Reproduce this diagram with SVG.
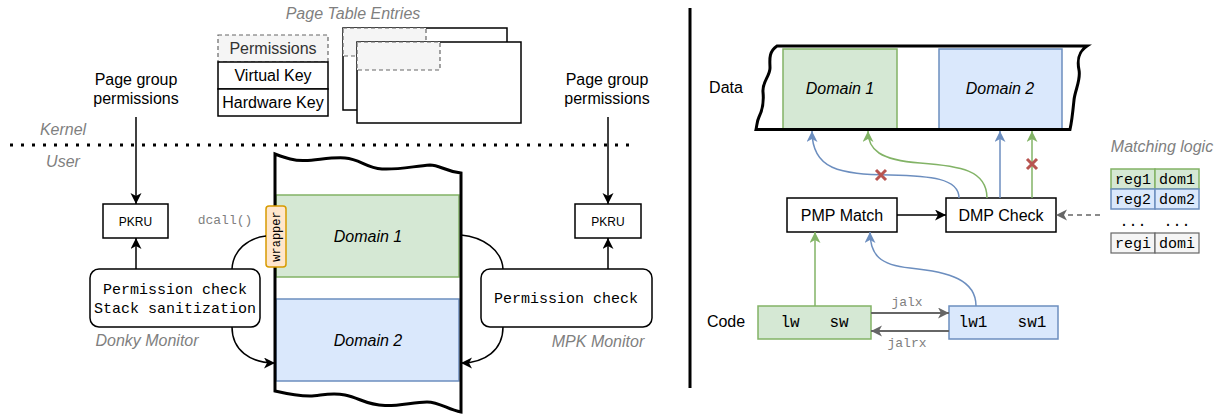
<svg xmlns="http://www.w3.org/2000/svg" width="1216" height="414" viewBox="0 0 1216 414">
<style>
.t{font-family:"Liberation Sans",Arial,sans-serif;font-size:16px;fill:#000;text-anchor:middle}
.i{font-family:"Liberation Sans",Arial,sans-serif;font-size:16px;font-style:italic;fill:#7f7f7f;text-anchor:middle}
.di{font-family:"Liberation Sans",Arial,sans-serif;font-size:16px;font-style:italic;fill:#000;text-anchor:middle}
.m{font-family:"Liberation Mono","Courier New",monospace;font-size:15px;fill:#000;text-anchor:middle}
.mg{font-family:"Liberation Mono","Courier New",monospace;font-size:13px;fill:#7f7f7f;text-anchor:middle}
.box{fill:#fff;stroke:#000;stroke-width:1.5}
.green{fill:#d5e8d4;stroke:#82b366;stroke-width:1.5}
.blue{fill:#dae8fc;stroke:#6c8ebf;stroke-width:1.5}
.grayd{fill:#f5f5f5;stroke:#666;stroke-width:1.2;stroke-dasharray:4 3}
.gray{fill:#f5f5f5;stroke:#666;stroke-width:1.2}
.tape{fill:none;stroke:#000;stroke-width:3}
.c{fill:none;stroke-width:1.5}
.x{stroke:#b85450;stroke-width:3;fill:none}
</style>
<defs>
<marker id="ak" markerUnits="userSpaceOnUse" markerWidth="12" markerHeight="12" refX="11" refY="5.5" orient="auto"><path d="M0,0 L11,5.5 L0,11 L3,5.5 z" fill="#000"/></marker>
<marker id="ab" markerUnits="userSpaceOnUse" markerWidth="12" markerHeight="12" refX="11" refY="5.5" orient="auto"><path d="M0,0 L11,5.5 L0,11 L3,5.5 z" fill="#6c8ebf"/></marker>
<marker id="ag" markerUnits="userSpaceOnUse" markerWidth="12" markerHeight="12" refX="11" refY="5.5" orient="auto"><path d="M0,0 L11,5.5 L0,11 L3,5.5 z" fill="#82b366"/></marker>
<marker id="ay" markerUnits="userSpaceOnUse" markerWidth="12" markerHeight="12" refX="11" refY="5.5" orient="auto"><path d="M0,0 L11,5.5 L0,11 L3,5.5 z" fill="#666"/></marker>
</defs>

<!-- Left: page table entries -->
<g id="pte-title"><text class="i" x="353" y="19">Page Table Entries</text></g>
<g id="pte-fields">
<rect class="grayd" x="218" y="35" width="110" height="27"/>
<text class="t" x="273" y="54" style="fill:#333">Permissions</text>
<rect class="box" x="218" y="62" width="110" height="27"/>
<text class="t" x="273" y="81">Virtual Key</text>
<rect class="box" x="218" y="89" width="110" height="27"/>
<text class="t" x="273" y="108">Hardware Key</text>
</g>
<g id="pte-back">
<rect class="box" x="343" y="28" width="164" height="82"/>
<rect class="grayd" x="343" y="28" width="83" height="28"/>
</g>
<g id="pte-front">
<rect class="box" x="357" y="42" width="164" height="81"/>
<rect class="grayd" x="357" y="42" width="83" height="28"/>
</g>

<!-- Kernel / User -->
<g id="privilege">
<text class="i" x="63" y="135">Kernel</text>
<text class="i" x="63" y="167">User</text>
<path d="M10,145 L636,145" stroke="#000" stroke-width="3" stroke-dasharray="3 8" fill="none"/>
</g>

<g id="pgp-left"><text class="t" x="136" y="85">Page group</text><text class="t" x="136" y="104">permissions</text></g>
<g id="pgp-right"><text class="t" x="607" y="85">Page group</text><text class="t" x="607" y="104">permissions</text></g>

<g id="pkru-left"><rect class="box" x="103" y="204" width="65" height="34"/><text class="t" x="135.5" y="225.5" style="font-size:12px">PKRU</text></g>
<g id="pkru-right"><rect class="box" x="575" y="204" width="66" height="34"/><text class="t" x="608" y="225.5" style="font-size:12px">PKRU</text></g>

<g id="donky-monitor">
<rect class="box" x="90" y="269" width="170" height="58" rx="9"/>
<text class="m" x="175" y="294">Permission check</text>
<text class="m" x="175" y="313">Stack sanitization</text>
<text class="i" x="147" y="346">Donky Monitor</text>
</g>
<g id="mpk-monitor">
<rect class="box" x="481" y="269" width="171" height="58" rx="9"/>
<text class="m" x="566" y="303">Permission check</text>
<text class="i" x="598" y="347">MPK Monitor</text>
</g>

<!-- Left memory tape -->
<g id="left-memory">
<path d="M275,154 C286,158 294,161 305,160.5 C318,160 332,157 345,158 C360,159 366,168 382,169 C398,170 415,166 430,165 C440,165 444,171 461,173 L461,412 C448,410 440,402 427,402 C414,402 400,406 385,405.5 C366,405 360,398 345,395 C330,392 320,396 310,396 C298,396 288,394 275,391 Z" fill="#fff"/>
<rect class="green" x="276" y="195" width="183" height="82"/>
<text class="di" x="368" y="242">Domain 1</text>
<rect class="blue" x="276" y="299" width="183" height="82"/>
<text class="di" x="368" y="346">Domain 2</text>
<path class="tape" d="M275,154 C286,158 294,161 305,160.5 C318,160 332,157 345,158 C360,159 366,168 382,169 C398,170 415,166 430,165 C440,165 444,171 461,173 L461,412 C448,410 440,402 427,402 C414,402 400,406 385,405.5 C366,405 360,398 345,395 C330,392 320,396 310,396 C298,396 288,394 275,391 Z"/>
</g>
<g id="wrapper">
<rect x="266" y="206" width="20" height="61" rx="3" fill="#ffe6cc" stroke="#d79b00" stroke-width="1.5"/>
<text class="m" x="276" y="240.5" style="font-size:12px" transform="rotate(-90 276 236.5)">wrapper</text>
</g>
<g id="dcall"><text class="mg" x="225" y="224">dcall()</text></g>

<g id="divider"><path d="M690,8 L690,388" stroke="#000" stroke-width="3"/></g>

<!-- Right side -->
<g id="data-label"><text class="t" x="726" y="93">Data</text></g>
<g id="data-memory">
<path d="M777,46 L1087,46 C1078,52 1077,60 1079,70 C1081,80 1075,90 1074,100 C1073,110 1072,121 1070,129.5 L756,129.5 C757,125 757,121 759,117 C762,111 764,102 763,92 C762,82 770,76 770,68 C770,61 768,52 777,46 Z" fill="#fff"/>
<rect class="green" x="783" y="49" width="114" height="80"/>
<text class="di" x="840" y="94">Domain 1</text>
<rect class="blue" x="939" y="49" width="123" height="80"/>
<text class="di" x="1000" y="94">Domain 2</text>
<path class="tape" d="M777,46 L1087,46 C1078,52 1077,60 1079,70 C1081,80 1075,90 1074,100 C1073,110 1072,121 1070,129.5 L756,129.5 C757,125 757,121 759,117 C762,111 764,102 763,92 C762,82 770,76 770,68 C770,61 768,52 777,46 Z"/>
</g>

<g id="pmp-match"><rect class="box" x="787" y="198" width="110" height="34"/><text class="t" x="842" y="221">PMP Match</text></g>
<g id="dmp-check"><rect class="box" x="946" y="198" width="110" height="34"/><text class="t" x="1001" y="221">DMP Check</text></g>

<g id="matching-logic">
<text class="i" x="1162" y="152">Matching logic</text>
<rect class="green" x="1111" y="169" width="44" height="20"/><rect class="green" x="1155" y="169" width="44" height="20"/>
<text class="m" x="1133" y="184">reg1</text><text class="m" x="1177" y="184">dom1</text>
<rect class="blue" x="1111" y="189" width="44" height="20"/><rect class="blue" x="1155" y="189" width="44" height="20"/>
<text class="m" x="1133" y="204">reg2</text><text class="m" x="1177" y="204">dom2</text>
<text class="m" x="1133" y="226">...</text><text class="m" x="1177" y="226">...</text>
<rect class="gray" x="1111" y="233" width="44" height="20"/><rect class="gray" x="1155" y="233" width="44" height="20"/>
<text class="m" x="1133" y="248">regi</text><text class="m" x="1177" y="248">domi</text>
</g>

<g id="code-label"><text class="t" x="726" y="327">Code</text></g>
<g id="code-d1"><rect class="green" x="758" y="306" width="113" height="33"/><text class="m" x="790" y="327" style="font-size:16px">lw</text><text class="m" x="839" y="327" style="font-size:16px">sw</text></g>
<g id="code-d2"><rect class="blue" x="949" y="306" width="109" height="33"/><text class="m" x="973" y="327" style="font-size:16px">lw1</text><text class="m" x="1032" y="327" style="font-size:16px">sw1</text></g>

<g id="connectors">
<path class="c" d="M136,117 L136,204" stroke="#000" marker-end="url(#ak)"/>
<path class="c" d="M136,269 L136,238" stroke="#000" marker-end="url(#ak)"/>
<path class="c" d="M608,117 L608,204" stroke="#000" marker-end="url(#ak)"/>
<path class="c" d="M608,269 L608,238" stroke="#000" marker-end="url(#ak)"/>
<path class="c" d="M266,236 C248,238 233,250 232,269" stroke="#000"/>
<path class="c" d="M232,327 C232,350 250,363 275,363" stroke="#000" marker-end="url(#ak)"/>
<path class="c" d="M461,235 C483,237 502,250 503,269" stroke="#000"/>
<path class="c" d="M503,327 C503,350 485,363 461,363" stroke="#000" marker-end="url(#ak)"/>

<path class="c" d="M959,198 C959,178 930,176 890,175 C840,174 812,170 812,131" stroke="#6c8ebf" marker-end="url(#ab)"/>
<path class="c" d="M987,198 C987,170 960,166 920,163 C880,160 868,150 868,131" stroke="#82b366" marker-end="url(#ag)"/>
<path class="c" d="M1000,198 L1000,131" stroke="#6c8ebf" marker-end="url(#ab)"/>
<path class="c" d="M1032,198 L1032,131" stroke="#82b366" marker-end="url(#ag)"/>
<path class="x" d="M876,170 L886,180 M886,170 L876,180"/>
<path class="x" d="M1027,159 L1037,169 M1037,159 L1027,169"/>

<path class="c" d="M897,215 L946,215" stroke="#000" marker-end="url(#ak)"/>
<path class="c" d="M1100,215 L1056,215" stroke="#666" stroke-dasharray="5 4" marker-end="url(#ay)"/>

<path class="c" d="M815,306 L815,232" stroke="#82b366" marker-end="url(#ag)"/>
<path class="c" d="M976,306 C976,280 950,272 910,268 C880,265 870,255 870,232" stroke="#6c8ebf" marker-end="url(#ab)"/>

<path d="M871,313 L949,313" stroke="#666" stroke-width="2" fill="none" marker-end="url(#ay)"/>
<path d="M949,331 L871,331" stroke="#666" stroke-width="2" fill="none" marker-end="url(#ay)"/>
<text class="mg" x="907" y="306">jalx</text>
<text class="mg" x="907" y="347">jalrx</text>
</g>
</svg>
